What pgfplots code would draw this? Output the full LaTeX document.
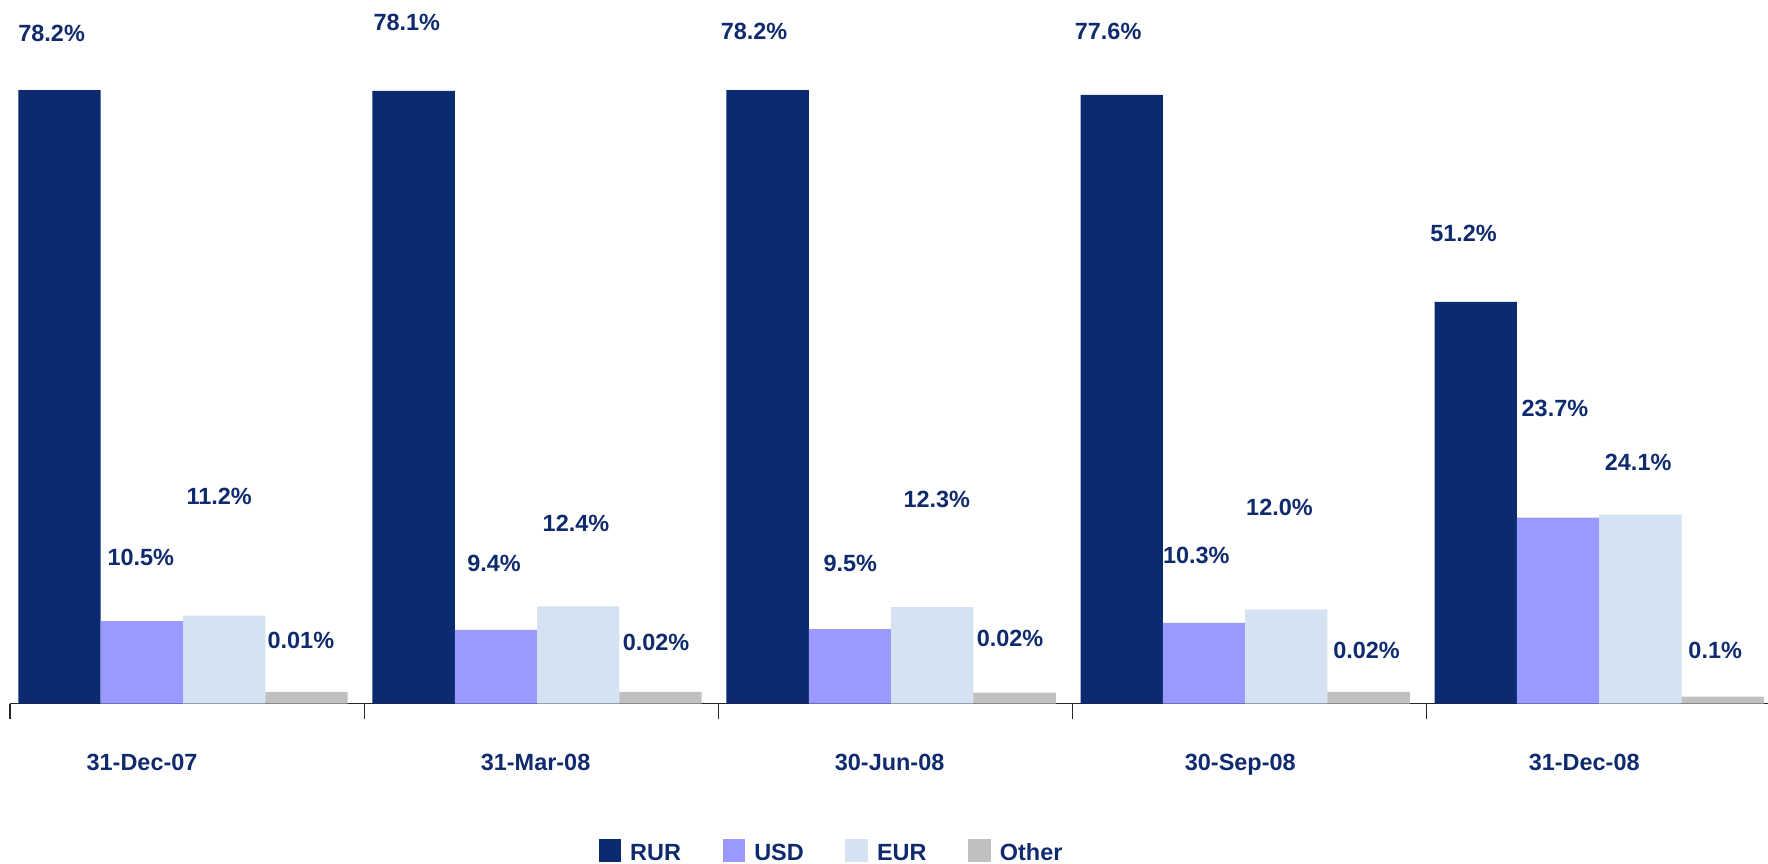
\documentclass[border=0pt]{standalone}
\usepackage{fontspec}
\setmainfont{Liberation Sans}
\usepackage{pgfplots}
\pgfplotsset{compat=1.18}
\definecolor{rur}{HTML}{0B2A70}
\definecolor{usd}{HTML}{9999FF}
\definecolor{eur}{HTML}{D5E2F1}
\definecolor{oth}{HTML}{C0C0C0}
\definecolor{navy}{HTML}{0F2B6E}

\begin{document}
\begin{tikzpicture}
\path[use as bounding box] (0,0) rectangle (784pt,383pt);
\clip (0,0) rectangle (784pt,383pt);
\begin{axis}[
  at={(4.5pt,71pt)}, anchor=south west,
  scale only axis, width=785pt, height=312pt,
  xmin=-0.5, xmax=4.5, ymin=0, ymax=89.7,
  axis y line=none, axis x line*=bottom,
  axis line style={black!85, line width=0.6pt},
  ybar, bar width=0.2325,
  xtick={-0.5,0.5,1.5,2.5,3.5,4.5},
  x tick label as interval,
  xticklabels={\makebox[0pt]{31-Dec-07\hspace{40pt}},
    \makebox[0pt]{31-Mar-08\hspace{5pt}},
    \makebox[0pt]{30-Jun-08\hspace{5pt}},
    \makebox[0pt]{30-Sep-08\hspace{8pt}},
    \makebox[0pt]{31-Dec-08\hspace{17pt}}},
  xtick align=outside, major tick length=7pt,
  xtick style={black!85, line width=0.6pt},
  xticklabel style={font=\fontsize{10.4}{12}\selectfont\bfseries, text=navy,
    yshift=-12pt},
  clip=false,
  legend style={at={(0.3324,-0.2136)}, anchor=west, draw=none, fill=none,
    inner sep=0pt, outer sep=0pt, legend columns=4,
    font=\fontsize{10.4}{12}\selectfont\bfseries, text=navy,
    /tikz/every odd column/.style={column sep=2pt},
    /tikz/every even column/.style={column sep=16.5pt}},
  legend image code/.code={\fill[#1] (0pt,-3.5pt) rectangle (10pt,6.5pt);},
]
% RUR
\addplot[fill=rur, draw=none, bar shift=-0.3605] coordinates {(0,78.2)(1,78.1)(2,78.2)(3,77.6)(4,51.2)};
% USD
\addplot[fill=usd, draw=none, bar shift=-0.128] coordinates {(0,10.5)(1,9.4)(2,9.5)(3,10.3)(4,23.7)};
% EUR
\addplot[fill=eur, draw=none, bar shift=0.1045] coordinates {(0,11.2)(1,12.4)(2,12.3)(3,12.0)(4,24.1)};
% Other (tiny shares, drawn at their visible height)
\addplot[fill=oth, draw=none, bar shift=0.337] coordinates {(0,1.5)(1,1.5)(2,1.4)(3,1.5)(4,0.9)};
\legend{RUR,USD,EUR,Other}

\tikzset{lbl/.style={anchor=west, inner sep=0pt, text=navy,
  font=\fontsize{10.4}{12}\selectfont\bfseries}}
% value labels
\node[lbl] at (axis cs:-0.478,85.38) {78.2\%};
\node[lbl] at (axis cs:-0.226,18.69) {10.5\%};
\node[lbl] at (axis cs:-0.003,26.45) {11.2\%};
\node[lbl] at (axis cs:0.226,8.05) {0.01\%};
\node[lbl] at (axis cs:0.525,86.82) {78.1\%};
\node[lbl] at (axis cs:0.790,17.82) {9.4\%};
\node[lbl] at (axis cs:1.003,23.00) {12.4\%};
\node[lbl] at (axis cs:1.229,7.76) {0.02\%};
\node[lbl] at (axis cs:1.506,85.67) {78.2\%};
\node[lbl] at (axis cs:1.796,17.82) {9.5\%};
\node[lbl] at (axis cs:2.022,26.02) {12.3\%};
\node[lbl] at (axis cs:2.229,8.34) {0.02\%};
\node[lbl] at (axis cs:2.506,85.67) {77.6\%};
\node[lbl] at (axis cs:2.755,18.83) {10.3\%};
\node[lbl] at (axis cs:2.990,25.01) {12.0\%};
\node[lbl] at (axis cs:3.236,6.76) {0.02\%};
\node[lbl] at (axis cs:3.510,59.94) {51.2\%};
\node[lbl] at (axis cs:3.768,37.66) {23.7\%};
\node[lbl] at (axis cs:4.003,30.76) {24.1\%};
\node[lbl] at (axis cs:4.239,6.76) {0.1\%};
\end{axis}
\end{tikzpicture}
\end{document}
